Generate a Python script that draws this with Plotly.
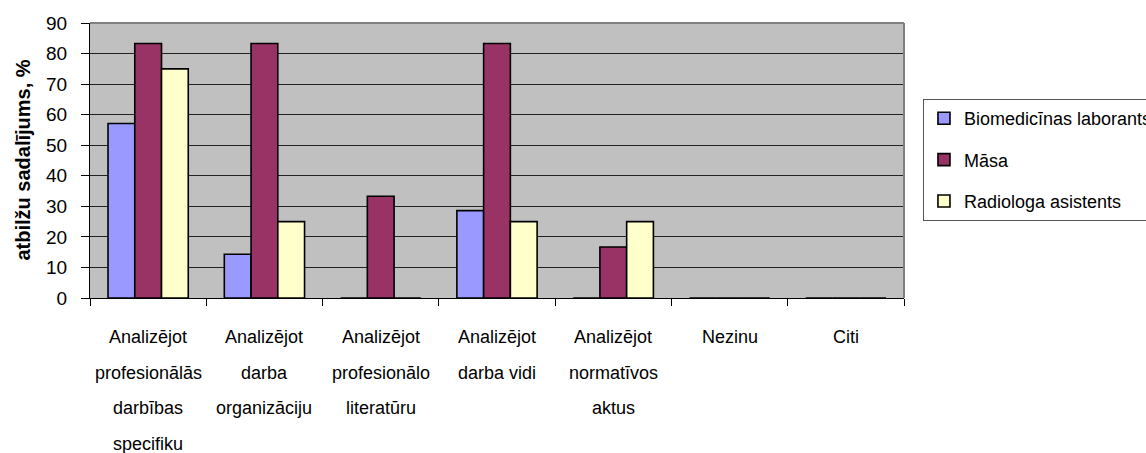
import plotly.graph_objects as go

# Atbilžu kategorijas (katra rinda - atsevišķa etiķetes līnija)
categories = [
    "Analizējot profesionālās darbības specifiku",
    "Analizējot darba organizāciju",
    "Analizējot profesionālo literatūru",
    "Analizējot darba vidi",
    "Analizējot normatīvos aktus",
    "Nezinu",
    "Citi",
]
category_lines = [
    ["Analizējot", "profesionālās", "darbības", "specifiku"],
    ["Analizējot", "darba", "organizāciju"],
    ["Analizējot", "profesionālo", "literatūru"],
    ["Analizējot", "darba vidi"],
    ["Analizējot", "normatīvos", "aktus"],
    ["Nezinu"],
    ["Citi"],
]

biomed = [57.1, 14.3, 0, 28.6, 0, 0, 0]
masa = [83.3, 83.3, 33.3, 83.3, 16.7, 0, 0]
radiologa = [75, 25, 0, 25, 25, 0, 0]

y_ticks = [0, 10, 20, 30, 40, 50, 60, 70, 80, 90]

series = [
    ("Biomedicīnas laborants", biomed, "#9999FF"),
    ("Māsa", masa, "#993366"),
    ("Radiologa asistents", radiologa, "#FFFFCC"),
]

FONT = "Liberation Sans, Arial, sans-serif"

fig = go.Figure()
for i, (name, vals, color) in enumerate(series):
    fig.add_trace(go.Bar(
        x=categories, y=vals, name=name, legendgroup=f"g{i}",
        marker=dict(color=color, line=dict(color="black", width=1.6)),
    ))

# Kategoriju etiķetes zem ass, ar plašu rindstarpu
annotations = []
for cat, lines in zip(categories, category_lines):
    for j, line in enumerate(lines):
        annotations.append(dict(
            x=cat, xref="x", y=0, yref="paper", text=line, showarrow=False,
            xanchor="center", yanchor="middle", yshift=-(39 + 35.5 * j),
            font=dict(family=FONT, size=18, color="black"),
        ))

# Y ass nosaukums
annotations.append(dict(
    x=-0.0835, xref="paper", y=0.5, yref="paper", text="<b>atbilžu sadalījums, %</b>",
    textangle=-90, showarrow=False, xanchor="center", yanchor="middle",
    font=dict(family=FONT, size=20, color="black"),
))

fig.update_layout(
    width=1146, height=453,
    margin=dict(l=90, r=242, t=23, b=155, autoexpand=False),
    paper_bgcolor="white", plot_bgcolor="#C0C0C0",
    barmode="group", bargap=0.31, bargroupgap=0,
    font=dict(family=FONT, size=18, color="black"),
    showlegend=True,
    legend=dict(
        x=1.0233, xanchor="left", y=0.7236, yanchor="top",
        bgcolor="white", bordercolor="#555555", borderwidth=1,
        font=dict(family=FONT, size=18, color="black"),
        tracegroupgap=15, traceorder="grouped",
    ),
    annotations=annotations,
    shapes=[
        dict(type="line", xref="paper", yref="paper", x0=0, x1=1, y0=1, y1=1,
             line=dict(color="#808080", width=2)),
        dict(type="line", xref="paper", yref="paper", x0=1, x1=1, y0=0, y1=1,
             line=dict(color="#808080", width=2)),
    ],
)

fig.update_xaxes(
    showticklabels=False, tickson="boundaries", ticks="outside", ticklen=7,
    tickcolor="black", showline=True, linecolor="black", linewidth=1,
    showgrid=False, zeroline=False,
)
fig.update_yaxes(
    range=[0, 90], tickvals=y_ticks, ticks="outside", ticklen=8, tickcolor="black",
    ticklabelstandoff=10, tickfont=dict(family=FONT, size=19, color="black"),
    showline=True, linecolor="black", linewidth=1,
    showgrid=True, gridcolor="#222222", gridwidth=1, zeroline=False,
)

fig.write_html("out.html")
